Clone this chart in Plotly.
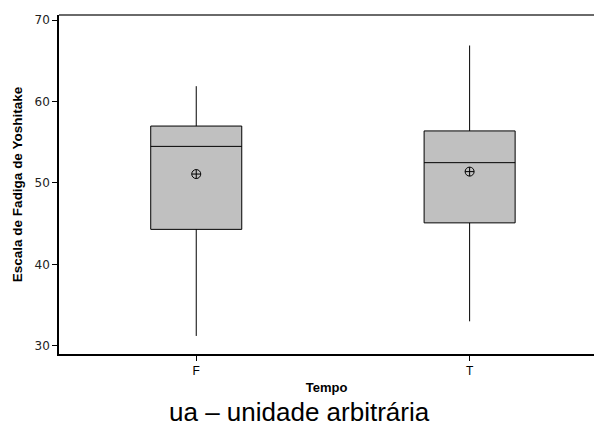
import plotly.graph_objects as go

# Estatísticas (Escala de Fadiga de Yoshitake)
CATEGORIAS = ["F", "T"]
Q1 = [44.3, 45.1]
MEDIANA = [54.5, 52.5]
Q3 = [57.0, 56.4]
MINIMO = [31.2, 33.0]
MAXIMO = [61.9, 66.9]
MEDIA = [51.1, 51.4]
Y_TICKS = [30, 40, 50, 60, 70]


def main():
    fig = go.Figure()

    fig.add_trace(
        go.Box(
            x=CATEGORIAS,
            q1=Q1,
            median=MEDIANA,
            q3=Q3,
            lowerfence=MINIMO,
            upperfence=MAXIMO,
            boxpoints=False,
            width=0.333,
            whiskerwidth=0,
            fillcolor="#c0c0c0",
            line_color="black",
            line_width=1,
            hoverinfo="skip",
        )
    )

    # Média como marcador de círculo com cruz
    fig.add_trace(
        go.Scatter(
            x=CATEGORIAS,
            y=MEDIA,
            mode="markers",
            marker_symbol="circle-cross-open",
            marker_size=9,
            marker_color="black",
            marker_line_width=1,
            hoverinfo="skip",
        )
    )

    fig.update_xaxes(
        type="category",
        range=[-0.502, 1.455],
        showline=True,
        linecolor="black",
        linewidth=2,
        ticks="outside",
        ticklen=5,
        tickcolor="black",
        tickfont=dict(family="Liberation Sans", size=12, color="black"),
        showgrid=False,
        zeroline=False,
        title_text="<b>Tempo</b>",
        title_font=dict(family="Liberation Sans", size=13, color="black"),
        title_standoff=5,
    )

    fig.update_yaxes(
        range=[28.98, 70.65],
        tickvals=Y_TICKS,
        showline=True,
        linecolor="black",
        linewidth=1.5,
        ticks="outside",
        ticklen=5,
        tickcolor="black",
        tickfont=dict(family="DejaVu Sans", size=12, color="#222222"),
        showgrid=False,
        zeroline=False,
        title_text="<b>Escala de Fadiga de Yoshitake</b>",
        title_font=dict(family="Liberation Sans", size=13.5, color="black"),
        title_standoff=9,
    )

    fig.update_layout(
        width=594,
        height=427,
        showlegend=False,
        plot_bgcolor="white",
        paper_bgcolor="white",
        margin=dict(l=59, r=0, t=15, b=73),
        shapes=[
            dict(
                type="line",
                xref="paper",
                yref="paper",
                x0=0,
                x1=1,
                y0=1,
                y1=1,
                line=dict(color="#6a6a6a", width=2),
            )
        ],
        annotations=[
            dict(
                xref="paper",
                yref="paper",
                x=(299 - 59) / 535,
                y=-(412 - 354) / 339,
                yanchor="middle",
                text="ua – unidade arbitrária",
                showarrow=False,
                font=dict(family="Liberation Sans", size=26, color="black"),
            )
        ],
    )

    fig.write_html(
        "out.html",
        config={"displayModeBar": False},
        post_script="document.body.style.margin='0';",
    )


if __name__ == "__main__":
    main()
